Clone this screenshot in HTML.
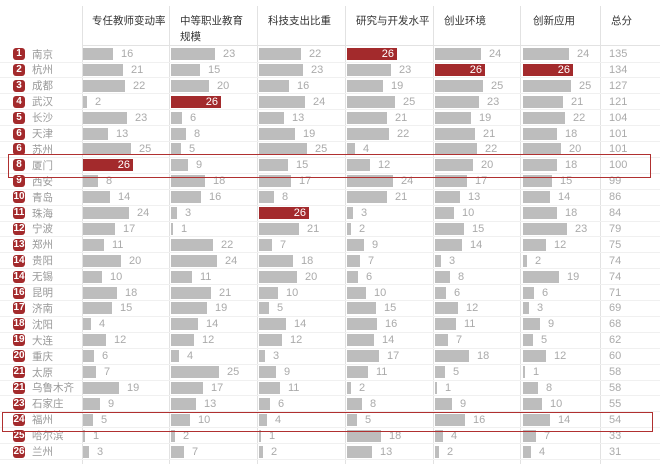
<!DOCTYPE html><html><head><meta charset="utf-8"><style>
body{margin:0;background:#fff;font-family:"Liberation Sans","Noto Sans CJK SC",sans-serif}
#w{position:relative;width:660px;height:469px;overflow:hidden}
.vl{position:absolute;top:6px;height:458px;width:1px;background:#e2e2e2}
.h{position:absolute;font-size:10.5px;color:#333;line-height:16px}
.r{position:absolute;left:0;width:660px;height:16px;display:flex;align-items:center;border-bottom:1px solid #f0f0f0;box-sizing:border-box}
.n{width:82px;display:flex;align-items:center;font-size:10.5px;color:#999}
.k{display:inline-block;width:12px;height:12px;border-radius:3px;background:#a32a2c;color:#fff;font-size:10px;line-height:12px;text-align:center;margin-left:13px;margin-right:7px;font-style:normal;font-weight:bold}
.c{width:88px;display:flex;align-items:center;height:16px;font-style:normal}
.c b{display:block;height:12px;background:#bdbdbd;margin-left:1px;flex:none}
.c s{text-decoration:none;margin-left:8px;color:#aaa;font-size:11px}
.c b.x{background:#a32a2c;color:#fff;font-size:11px;font-weight:normal;line-height:12px;text-align:right;box-sizing:border-box;padding-right:3px}
.t{font-size:11px;color:#aaa;margin-left:7px}
.w1{width:2px}.w2{width:4px}.w3{width:6px}.w4{width:8px}.w5{width:10px}.w6{width:11px}.w7{width:13px}.w8{width:15px}.w9{width:17px}.w10{width:19px}.w11{width:21px}.w12{width:23px}.w13{width:25px}.w14{width:27px}.w15{width:29px}.w16{width:30px}.w17{width:32px}.w18{width:34px}.w19{width:36px}.w20{width:38px}.w21{width:40px}.w22{width:42px}.w23{width:44px}.w24{width:46px}.w25{width:48px}.w26{width:50px}
.bx{position:absolute;border:1px solid #b03030}
</style></head><body><div id="w">
<div class="vl" style="left:82px"></div><div class="vl" style="left:169px"></div><div class="vl" style="left:257px"></div><div class="vl" style="left:345px"></div><div class="vl" style="left:433px"></div><div class="vl" style="left:520px"></div><div class="vl" style="left:600px"></div>
<div style="position:absolute;left:82px;top:45px;width:578px;height:1px;background:#e2e2e2"></div>
<div class="h" style="left:92px;top:13px">专任教师变动率</div>
<div class="h" style="left:180px;top:13px">中等职业教育<br>规模</div>
<div class="h" style="left:268px;top:13px">科技支出比重</div>
<div class="h" style="left:356px;top:13px">研究与开发水平</div>
<div class="h" style="left:444px;top:13px">创业环境</div>
<div class="h" style="left:533px;top:13px">创新应用</div>
<div class="h" style="left:611px;top:13px">总分</div>

<div class="r" style="top:46.5px"><span class="n"><i class="k">1</i>南京</span><i class="c"><b class="w16"></b><s>16</s></i><i class="c"><b class="w23"></b><s>23</s></i><i class="c"><b class="w22"></b><s>22</s></i><i class="c"><b class="w26 x">26</b></i><i class="c"><b class="w24"></b><s>24</s></i><i class="c" style="width:80px"><b class="w24"></b><s>24</s></i><span class="t">135</span></div>
<div class="r" style="top:62.4px"><span class="n"><i class="k">2</i>杭州</span><i class="c"><b class="w21"></b><s>21</s></i><i class="c"><b class="w15"></b><s>15</s></i><i class="c"><b class="w23"></b><s>23</s></i><i class="c"><b class="w23"></b><s>23</s></i><i class="c"><b class="w26 x">26</b></i><i class="c" style="width:80px"><b class="w26 x">26</b></i><span class="t">134</span></div>
<div class="r" style="top:78.3px"><span class="n"><i class="k">3</i>成都</span><i class="c"><b class="w22"></b><s>22</s></i><i class="c"><b class="w20"></b><s>20</s></i><i class="c"><b class="w16"></b><s>16</s></i><i class="c"><b class="w19"></b><s>19</s></i><i class="c"><b class="w25"></b><s>25</s></i><i class="c" style="width:80px"><b class="w25"></b><s>25</s></i><span class="t">127</span></div>
<div class="r" style="top:94.2px"><span class="n"><i class="k">4</i>武汉</span><i class="c"><b class="w2"></b><s>2</s></i><i class="c"><b class="w26 x">26</b></i><i class="c"><b class="w24"></b><s>24</s></i><i class="c"><b class="w25"></b><s>25</s></i><i class="c"><b class="w23"></b><s>23</s></i><i class="c" style="width:80px"><b class="w21"></b><s>21</s></i><span class="t">121</span></div>
<div class="r" style="top:110.1px"><span class="n"><i class="k">5</i>长沙</span><i class="c"><b class="w23"></b><s>23</s></i><i class="c"><b class="w6"></b><s>6</s></i><i class="c"><b class="w13"></b><s>13</s></i><i class="c"><b class="w21"></b><s>21</s></i><i class="c"><b class="w19"></b><s>19</s></i><i class="c" style="width:80px"><b class="w22"></b><s>22</s></i><span class="t">104</span></div>
<div class="r" style="top:126px"><span class="n"><i class="k">6</i>天津</span><i class="c"><b class="w13"></b><s>13</s></i><i class="c"><b class="w8"></b><s>8</s></i><i class="c"><b class="w19"></b><s>19</s></i><i class="c"><b class="w22"></b><s>22</s></i><i class="c"><b class="w21"></b><s>21</s></i><i class="c" style="width:80px"><b class="w18"></b><s>18</s></i><span class="t">101</span></div>
<div class="r" style="top:141.9px"><span class="n"><i class="k">6</i>苏州</span><i class="c"><b class="w25"></b><s>25</s></i><i class="c"><b class="w5"></b><s>5</s></i><i class="c"><b class="w25"></b><s>25</s></i><i class="c"><b class="w4"></b><s>4</s></i><i class="c"><b class="w22"></b><s>22</s></i><i class="c" style="width:80px"><b class="w20"></b><s>20</s></i><span class="t">101</span></div>
<div class="r" style="top:157.8px"><span class="n"><i class="k">8</i>厦门</span><i class="c"><b class="w26 x">26</b></i><i class="c"><b class="w9"></b><s>9</s></i><i class="c"><b class="w15"></b><s>15</s></i><i class="c"><b class="w12"></b><s>12</s></i><i class="c"><b class="w20"></b><s>20</s></i><i class="c" style="width:80px"><b class="w18"></b><s>18</s></i><span class="t">100</span></div>
<div class="r" style="top:173.7px"><span class="n"><i class="k">9</i>西安</span><i class="c"><b class="w8"></b><s>8</s></i><i class="c"><b class="w18"></b><s>18</s></i><i class="c"><b class="w17"></b><s>17</s></i><i class="c"><b class="w24"></b><s>24</s></i><i class="c"><b class="w17"></b><s>17</s></i><i class="c" style="width:80px"><b class="w15"></b><s>15</s></i><span class="t">99</span></div>
<div class="r" style="top:189.6px"><span class="n"><i class="k">10</i>青岛</span><i class="c"><b class="w14"></b><s>14</s></i><i class="c"><b class="w16"></b><s>16</s></i><i class="c"><b class="w8"></b><s>8</s></i><i class="c"><b class="w21"></b><s>21</s></i><i class="c"><b class="w13"></b><s>13</s></i><i class="c" style="width:80px"><b class="w14"></b><s>14</s></i><span class="t">86</span></div>
<div class="r" style="top:205.5px"><span class="n"><i class="k">11</i>珠海</span><i class="c"><b class="w24"></b><s>24</s></i><i class="c"><b class="w3"></b><s>3</s></i><i class="c"><b class="w26 x">26</b></i><i class="c"><b class="w3"></b><s>3</s></i><i class="c"><b class="w10"></b><s>10</s></i><i class="c" style="width:80px"><b class="w18"></b><s>18</s></i><span class="t">84</span></div>
<div class="r" style="top:221.4px"><span class="n"><i class="k">12</i>宁波</span><i class="c"><b class="w17"></b><s>17</s></i><i class="c"><b class="w1"></b><s>1</s></i><i class="c"><b class="w21"></b><s>21</s></i><i class="c"><b class="w2"></b><s>2</s></i><i class="c"><b class="w15"></b><s>15</s></i><i class="c" style="width:80px"><b class="w23"></b><s>23</s></i><span class="t">79</span></div>
<div class="r" style="top:237.3px"><span class="n"><i class="k">13</i>郑州</span><i class="c"><b class="w11"></b><s>11</s></i><i class="c"><b class="w22"></b><s>22</s></i><i class="c"><b class="w7"></b><s>7</s></i><i class="c"><b class="w9"></b><s>9</s></i><i class="c"><b class="w14"></b><s>14</s></i><i class="c" style="width:80px"><b class="w12"></b><s>12</s></i><span class="t">75</span></div>
<div class="r" style="top:253.2px"><span class="n"><i class="k">14</i>贵阳</span><i class="c"><b class="w20"></b><s>20</s></i><i class="c"><b class="w24"></b><s>24</s></i><i class="c"><b class="w18"></b><s>18</s></i><i class="c"><b class="w7"></b><s>7</s></i><i class="c"><b class="w3"></b><s>3</s></i><i class="c" style="width:80px"><b class="w2"></b><s>2</s></i><span class="t">74</span></div>
<div class="r" style="top:269.1px"><span class="n"><i class="k">14</i>无锡</span><i class="c"><b class="w10"></b><s>10</s></i><i class="c"><b class="w11"></b><s>11</s></i><i class="c"><b class="w20"></b><s>20</s></i><i class="c"><b class="w6"></b><s>6</s></i><i class="c"><b class="w8"></b><s>8</s></i><i class="c" style="width:80px"><b class="w19"></b><s>19</s></i><span class="t">74</span></div>
<div class="r" style="top:285px"><span class="n"><i class="k">16</i>昆明</span><i class="c"><b class="w18"></b><s>18</s></i><i class="c"><b class="w21"></b><s>21</s></i><i class="c"><b class="w10"></b><s>10</s></i><i class="c"><b class="w10"></b><s>10</s></i><i class="c"><b class="w6"></b><s>6</s></i><i class="c" style="width:80px"><b class="w6"></b><s>6</s></i><span class="t">71</span></div>
<div class="r" style="top:300.9px"><span class="n"><i class="k">17</i>济南</span><i class="c"><b class="w15"></b><s>15</s></i><i class="c"><b class="w19"></b><s>19</s></i><i class="c"><b class="w5"></b><s>5</s></i><i class="c"><b class="w15"></b><s>15</s></i><i class="c"><b class="w12"></b><s>12</s></i><i class="c" style="width:80px"><b class="w3"></b><s>3</s></i><span class="t">69</span></div>
<div class="r" style="top:316.8px"><span class="n"><i class="k">18</i>沈阳</span><i class="c"><b class="w4"></b><s>4</s></i><i class="c"><b class="w14"></b><s>14</s></i><i class="c"><b class="w14"></b><s>14</s></i><i class="c"><b class="w16"></b><s>16</s></i><i class="c"><b class="w11"></b><s>11</s></i><i class="c" style="width:80px"><b class="w9"></b><s>9</s></i><span class="t">68</span></div>
<div class="r" style="top:332.7px"><span class="n"><i class="k">19</i>大连</span><i class="c"><b class="w12"></b><s>12</s></i><i class="c"><b class="w12"></b><s>12</s></i><i class="c"><b class="w12"></b><s>12</s></i><i class="c"><b class="w14"></b><s>14</s></i><i class="c"><b class="w7"></b><s>7</s></i><i class="c" style="width:80px"><b class="w5"></b><s>5</s></i><span class="t">62</span></div>
<div class="r" style="top:348.6px"><span class="n"><i class="k">20</i>重庆</span><i class="c"><b class="w6"></b><s>6</s></i><i class="c"><b class="w4"></b><s>4</s></i><i class="c"><b class="w3"></b><s>3</s></i><i class="c"><b class="w17"></b><s>17</s></i><i class="c"><b class="w18"></b><s>18</s></i><i class="c" style="width:80px"><b class="w12"></b><s>12</s></i><span class="t">60</span></div>
<div class="r" style="top:364.5px"><span class="n"><i class="k">21</i>太原</span><i class="c"><b class="w7"></b><s>7</s></i><i class="c"><b class="w25"></b><s>25</s></i><i class="c"><b class="w9"></b><s>9</s></i><i class="c"><b class="w11"></b><s>11</s></i><i class="c"><b class="w5"></b><s>5</s></i><i class="c" style="width:80px"><b class="w1"></b><s>1</s></i><span class="t">58</span></div>
<div class="r" style="top:380.4px"><span class="n"><i class="k">21</i>乌鲁木齐</span><i class="c"><b class="w19"></b><s>19</s></i><i class="c"><b class="w17"></b><s>17</s></i><i class="c"><b class="w11"></b><s>11</s></i><i class="c"><b class="w2"></b><s>2</s></i><i class="c"><b class="w1"></b><s>1</s></i><i class="c" style="width:80px"><b class="w8"></b><s>8</s></i><span class="t">58</span></div>
<div class="r" style="top:396.3px"><span class="n"><i class="k">23</i>石家庄</span><i class="c"><b class="w9"></b><s>9</s></i><i class="c"><b class="w13"></b><s>13</s></i><i class="c"><b class="w6"></b><s>6</s></i><i class="c"><b class="w8"></b><s>8</s></i><i class="c"><b class="w9"></b><s>9</s></i><i class="c" style="width:80px"><b class="w10"></b><s>10</s></i><span class="t">55</span></div>
<div class="r" style="top:412.2px"><span class="n"><i class="k">24</i>福州</span><i class="c"><b class="w5"></b><s>5</s></i><i class="c"><b class="w10"></b><s>10</s></i><i class="c"><b class="w4"></b><s>4</s></i><i class="c"><b class="w5"></b><s>5</s></i><i class="c"><b class="w16"></b><s>16</s></i><i class="c" style="width:80px"><b class="w14"></b><s>14</s></i><span class="t">54</span></div>
<div class="r" style="top:428.1px"><span class="n"><i class="k">25</i>哈尔滨</span><i class="c"><b class="w1"></b><s>1</s></i><i class="c"><b class="w2"></b><s>2</s></i><i class="c"><b class="w1"></b><s>1</s></i><i class="c"><b class="w18"></b><s>18</s></i><i class="c"><b class="w4"></b><s>4</s></i><i class="c" style="width:80px"><b class="w7"></b><s>7</s></i><span class="t">33</span></div>
<div class="r" style="top:444px"><span class="n"><i class="k">26</i>兰州</span><i class="c"><b class="w3"></b><s>3</s></i><i class="c"><b class="w7"></b><s>7</s></i><i class="c"><b class="w2"></b><s>2</s></i><i class="c"><b class="w13"></b><s>13</s></i><i class="c"><b class="w2"></b><s>2</s></i><i class="c" style="width:80px"><b class="w4"></b><s>4</s></i><span class="t">31</span></div>

<div class="bx" style="left:8px;top:154px;width:641px;height:22px"></div>
<div class="bx" style="left:2px;top:412px;width:649px;height:18px"></div>
</div></body></html>
